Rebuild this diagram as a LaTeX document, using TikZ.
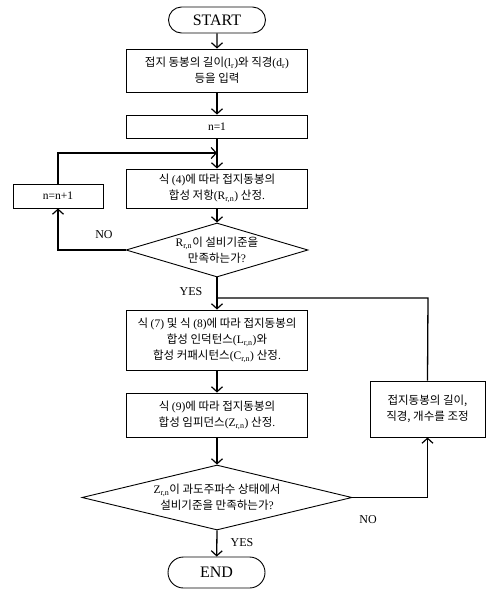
\documentclass[tikz,border=0pt]{standalone}
\usepackage{fontspec}
\setmainfont{Liberation Serif}
\newfontfamily\kr{Noto Sans CJK KR}
\usetikzlibrary{arrows.meta,shapes.geometric,shapes.misc}
\tikzset{
  box/.style={draw, line width=0.9pt, rectangle, align=center, inner sep=0pt,
    minimum width=181pt, font=\fontsize{11.5}{16}\selectfont},
  term/.style={draw, line width=0.9pt, rounded rectangle, inner sep=0pt,
    minimum width=97pt, font=\fontsize{16}{18}\selectfont},
  dia/.style={draw, line width=0.9pt, diamond, inner sep=0pt, align=center},
  arr/.style={line width=1.3pt, -{Straight Barb[length=5pt,width=11pt,line width=1.2pt]}},
  ln/.style={line width=1.3pt},
  lab/.style={font=\fontsize{12}{14}\selectfont, inner sep=0pt},
  txt/.style={font=\fontsize{11.5}{16}\selectfont, align=center, inner sep=0pt}
}
\begin{document}
\begin{tikzpicture}[x=1pt,y=-1pt]
\useasboundingbox (0,0) rectangle (490,595);
\node[term, minimum height=26pt] (start) at (217,20) {START};
\node[box, minimum height=43pt] (b1) at (217,70.5)
  {{\kr 접지 동봉의 길이}(l\textsubscript{r}){\kr 와 직경}(d\textsubscript{r})\\{\kr 등을 입력}};
\node[box, minimum height=23pt] (b2) at (217,126.5) {n=1};
\node[box, minimum height=39pt] (b3) at (217,188.5)
  {{\kr 식 }(4){\kr 에 따라 접지동봉의}\\{\kr 합성 저항}(R\textsubscript{r,n}) {\kr 산정}.};
\node[dia, minimum width=182pt, minimum height=54pt] (d1) at (217,250) {};
\node[txt] (d1t) at (d1.center) {R\textsubscript{r,n}{\kr 이 설비기준을}\\{\kr 만족하는가}?};
\node[box, minimum width=90pt, minimum height=24pt] (inc) at (58,196) {n=n+1};
\node[box, minimum height=60pt] (b4) at (217,340)
  {{\kr 식 }(7) {\kr 및 식 }(8){\kr 에 따라 접지동봉의}\\{\kr 합성 인덕턴스}(L\textsubscript{r,n}){\kr 와}\\{\kr 합성 커패시턴스}(C\textsubscript{r,n}) {\kr 산정}.};
\node[box, minimum height=44pt] (b5) at (217,415)
  {{\kr 식 }(9){\kr 에 따라 접지동봉의}\\{\kr 합성 임피던스}(Z\textsubscript{r,n}) {\kr 산정}.};
\node[dia, minimum width=270pt, minimum height=65pt] (d2) at (217,497.5) {};
\node[txt] (d2t) at (d2.center) {Z\textsubscript{r,n}{\kr 이 과도주파수 상태에서}\\{\kr 설비기준을 만족하는가}?};
\node[box, minimum width=115pt, minimum height=56pt] (adj) at (427.5,409)
  {{\kr 접지동봉의 길이,}\\{\kr 직경, 개수를 조정}};
\node[term, minimum height=31pt] (end) at (216.5,572.5) {END};
\coordinate (m1) at (217,153);
\coordinate (m2) at (217,298);
\coordinate (r1) at (428,298);

\draw[arr] (start) -- (b1);
\draw[arr] (b1) -- (b2);
\draw[arr] (b2) -- (b3);
\draw[arr] (b3) -- (d1);
\draw[arr] (d1.west) -| (inc.south);
\draw[arr] (inc.north) |- (m1);
\draw[arr] (d1.south) -- (b4.north);
\draw[ln] (adj.north) -- (r1) -- (m2);
\draw[arr] (b4) -- (b5);
\draw[arr] (b5) -- (d2);
\draw[arr] (d2.east) -| (adj.south);
\draw[arr] (d2.south) -- (end);

\node[lab] (no1) at (104,235) {NO};
\node[lab] (yes1) at (191,292) {YES};
\node[lab] (no2) at (368,520) {NO};
\node[lab] (yes2) at (242,543) {YES};
\end{tikzpicture}
\end{document}
